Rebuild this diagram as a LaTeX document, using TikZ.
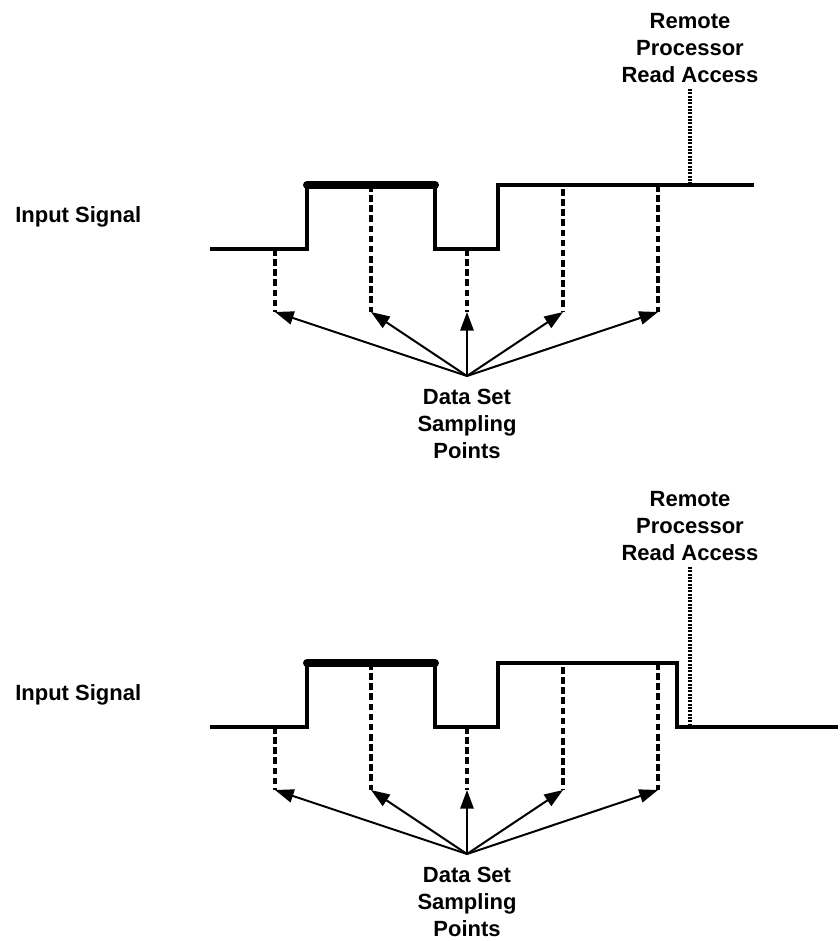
\documentclass[tikz,border=0pt]{standalone}
\usepackage{fontspec}
\setmainfont{Liberation Sans}
\usetikzlibrary{arrows.meta}
\begin{document}
\begin{tikzpicture}[x=0.75pt,y=-0.75pt,
  lbl/.style={font=\bfseries\fontsize{16.5pt}{20.25pt}\selectfont, align=center, inner sep=0pt},
  sigline/.style={line width=2.4pt, line join=miter},
  thickbar/.style={line width=6pt, line cap=round},
  sampline/.style={line width=2.5pt, dash pattern=on 5pt off 2.6pt},
  readline/.style={line width=2.4pt, dash pattern=on 1.4pt off 1.1pt},
  arr/.style={line width=1.5pt, -{Triangle[length=14pt,width=10pt]}}]
\useasboundingbox (0,0) rectangle (839,941);

\foreach \p/\dy in {a/0,b/478}{
\begin{scope}[shift={(0,\dy)}]
  % labels
  \node[lbl, anchor=west] (\p-in) at (15,217) {Input Signal};
  \node[lbl] (\p-rem) at (690,48) {Remote\\Processor\\Read Access};
  \node[lbl] (\p-ds) at (467,424) {Data Set\\Sampling\\Points};
  % sampling points on the signal
  \coordinate (\p-t1) at (275,249);
  \coordinate (\p-t2) at (371,185);
  \coordinate (\p-t3) at (467,249);
  \coordinate (\p-t4) at (563,189);
  \coordinate (\p-t5) at (658,185);
  % sampling points (arrow targets)
  \coordinate (\p-s1) at (275,312);
  \coordinate (\p-s2) at (371,312);
  \coordinate (\p-s3) at (467,312);
  \coordinate (\p-s4) at (563,312);
  \coordinate (\p-s5) at (658,312);
  \coordinate (\p-c) at (467,376);
  % read access
  \coordinate (\p-r1) at (690,89);
  \coordinate (\p-r2) at (690,185);
  % dashed sample lines
  \foreach \i in {1,...,5}{
    \draw[sampline] (\p-t\i) -- (\p-s\i);
    \draw[arr] (\p-c) -- (\p-s\i);
  }
  % thick bar
  \draw[thickbar] (307,185) -- (435,185);
\end{scope}
}

% signals
\draw[sigline] (210,249) -- (307,249) -- (307,185) -- (435,185) -- (435,249)
  -- (498,249) -- (498,185) -- (754,185);
\draw[sigline] (210,727) -- (307,727) -- (307,663) -- (435,663) -- (435,727)
  -- (498,727) -- (498,663) -- (677,663) -- (677,727) -- (838,727);

% read access dotted lines
\draw[readline] (a-r1) -- (a-r2);
\draw[readline] (b-r1) -- (690,727);
\end{tikzpicture}
\end{document}
